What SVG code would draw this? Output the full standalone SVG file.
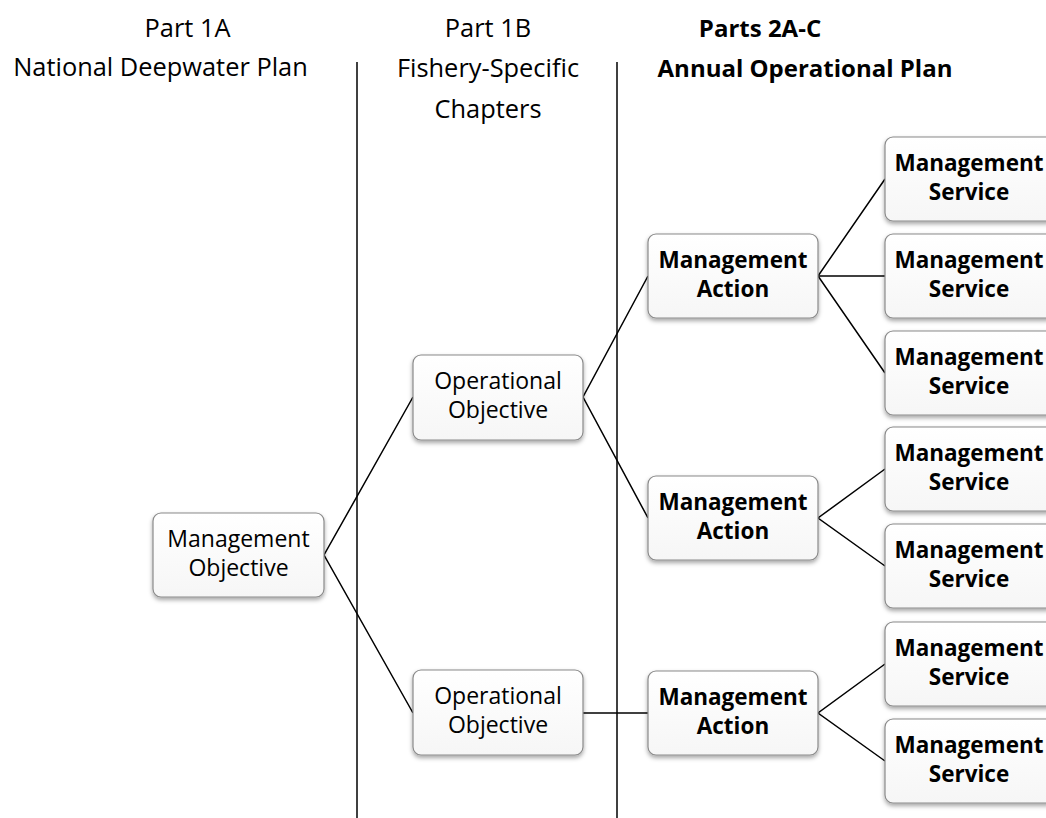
<svg xmlns="http://www.w3.org/2000/svg" width="1046" height="818" viewBox="0 0 1046 818">
<defs>
<filter id="sh" x="-10%" y="-10%" width="130%" height="140%">
<feDropShadow dx="0" dy="2.5" stdDeviation="2" flood-color="#000" flood-opacity="0.35"/>
</filter>
<linearGradient id="g" x1="0" y1="0" x2="0" y2="1">
<stop offset="0" stop-color="#ffffff"/>
<stop offset="1" stop-color="#f6f6f6"/>
</linearGradient>
</defs>
<style>
.box{fill:url(#g);stroke:#8a8a8a;stroke-width:1.2;filter:url(#sh)}
.t{font-family:"Open Sans","Noto Sans",sans-serif;font-size:23px;fill:#000;text-anchor:middle}
.t.b{font-weight:bold;font-size:22.5px}
.c{stroke:#000;stroke-width:1.5;fill:none}
.h{font-family:"Open Sans","Noto Sans",sans-serif;font-size:25.4px;fill:#000;text-anchor:middle}
.h.b{font-weight:bold;font-size:24px}
</style>
<rect width="1046" height="818" fill="#fff"/>
<g id="headers">
<text class="h" x="187.5" y="37">Part 1A</text>
<text class="h" x="160.5" y="76">National Deepwater Plan</text>
<text class="h" x="488" y="37">Part 1B</text>
<text class="h" x="488" y="77">Fishery-Specific</text>
<text class="h" x="488" y="118">Chapters</text>
<text class="h b" x="760" y="37">Parts 2A-C</text>
<text class="h b" x="805" y="77">Annual Operational Plan</text>
</g>
<g id="connectors">
<line class="c" x1="357" y1="62" x2="357" y2="818"/>
<line class="c" x1="617" y1="62" x2="617" y2="818"/>
<polyline class="c" points="413,397 324,555 413,713"/>
<polyline class="c" points="648,276 583,397 648,518"/>
<line class="c" x1="583" y1="713" x2="648" y2="713"/>
<polyline class="c" points="885,179 818,276 885,373"/>
<line class="c" x1="818" y1="276" x2="885" y2="276"/>
<polyline class="c" points="885,469 818,518 885,566"/>
<polyline class="c" points="885,664 818,713 885,761"/>
</g>
<g id="mgmt-objective"><rect class="box" x="153" y="513" width="171" height="84" rx="8"/><text class="t" x="238.5" y="547">Management</text><text class="t" x="238.5" y="576">Objective</text></g>
<g id="op-objective-1"><rect class="box" x="413" y="355" width="170" height="85" rx="8"/><text class="t" x="498" y="389">Operational</text><text class="t" x="498" y="418">Objective</text></g>
<g id="op-objective-2"><rect class="box" x="413" y="670" width="170" height="85" rx="8"/><text class="t" x="498" y="704">Operational</text><text class="t" x="498" y="733">Objective</text></g>
<g id="action-1"><rect class="box" x="648" y="234" width="170" height="84" rx="8"/><text class="t b" x="733" y="268">Management</text><text class="t b" x="733" y="297">Action</text></g>
<g id="action-2"><rect class="box" x="648" y="476" width="170" height="84" rx="8"/><text class="t b" x="733" y="510">Management</text><text class="t b" x="733" y="539">Action</text></g>
<g id="action-3"><rect class="box" x="648" y="671" width="170" height="84" rx="8"/><text class="t b" x="733" y="705">Management</text><text class="t b" x="733" y="734">Action</text></g>
<g id="service-1"><rect class="box" x="885" y="137" width="170" height="84" rx="8"/><text class="t b" x="969" y="171">Management</text><text class="t b" x="969" y="200">Service</text></g>
<g id="service-2"><rect class="box" x="885" y="234" width="170" height="84" rx="8"/><text class="t b" x="969" y="268">Management</text><text class="t b" x="969" y="297">Service</text></g>
<g id="service-3"><rect class="box" x="885" y="331" width="170" height="84" rx="8"/><text class="t b" x="969" y="365">Management</text><text class="t b" x="969" y="394">Service</text></g>
<g id="service-4"><rect class="box" x="885" y="427" width="170" height="84" rx="8"/><text class="t b" x="969" y="461">Management</text><text class="t b" x="969" y="490">Service</text></g>
<g id="service-5"><rect class="box" x="885" y="524" width="170" height="84" rx="8"/><text class="t b" x="969" y="558">Management</text><text class="t b" x="969" y="587">Service</text></g>
<g id="service-6"><rect class="box" x="885" y="622" width="170" height="84" rx="8"/><text class="t b" x="969" y="656">Management</text><text class="t b" x="969" y="685">Service</text></g>
<g id="service-7"><rect class="box" x="885" y="719" width="170" height="84" rx="8"/><text class="t b" x="969" y="753">Management</text><text class="t b" x="969" y="782">Service</text></g>
</svg>
